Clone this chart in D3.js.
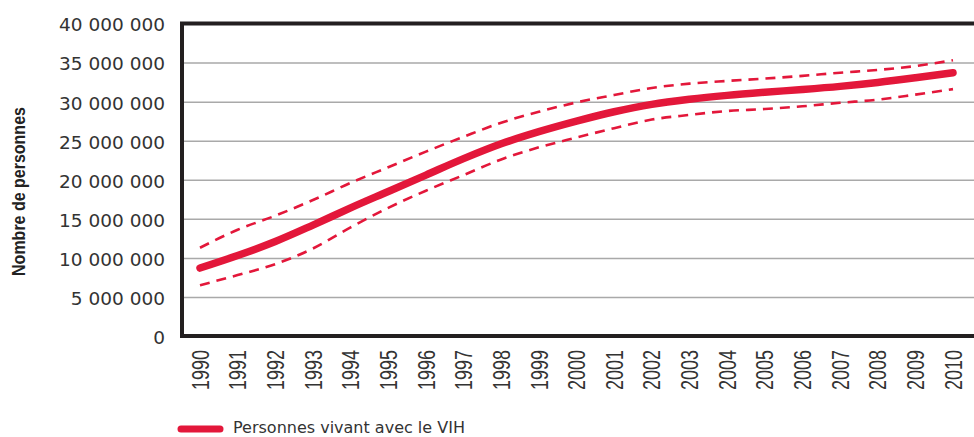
<!DOCTYPE html>
<html>
<head>
<meta charset="utf-8">
<script src="https://cdn.jsdelivr.net/npm/d3@7"></script>
<style>
  body { margin: 0; background: #fff; }
  svg { display: block; }
</style>
</head>
<body>
<svg id="chart" width="974" height="437"></svg>
<script>
// people living with HIV, with low / high estimates
const years = [1990, 1991, 1992, 1993, 1994, 1995, 1996, 1997, 1998, 1999, 2000,
               2001, 2002, 2003, 2004, 2005, 2006, 2007, 2008, 2009, 2010];
const estimate = [8700000, 10300000, 12100000, 14200000, 16400000, 18500000, 20600000,
                  22700000, 24600000, 26150000, 27500000, 28700000, 29650000, 30300000,
                  30800000, 31200000, 31550000, 31950000, 32450000, 33050000, 33700000];
const upperBound = [11300000, 13600000, 15400000, 17400000, 19600000, 21600000, 23600000,
                    25500000, 27300000, 28700000, 29900000, 30850000, 31750000, 32300000,
                    32650000, 32950000, 33300000, 33700000, 34050000, 34550000, 35300000];
const lowerBound = [6500000, 7800000, 9200000, 11200000, 13900000, 16400000, 18600000,
                    20600000, 22600000, 24150000, 25400000, 26600000, 27700000, 28300000,
                    28800000, 29050000, 29400000, 29850000, 30250000, 30900000, 31600000];
const yTicks = [0, 5000000, 10000000, 15000000, 20000000, 25000000, 30000000, 35000000, 40000000];
const yTitle = "Nombre de personnes";
const legendLabel = "Personnes vivant avec le VIH";

let width = 974;
let height = 437;
let red = "#e3173a";

let svg = d3.select("#chart");

let frame = { left: 182, top: 23.5, bottom: 336 };

let x = d3.scaleLinear()
    .domain([1990, 2010])
    .range([200, 953]);

let y = d3.scaleLinear()
    .domain([0, 40000000])
    .range([frame.bottom, frame.top]);

// y axis with gridlines across the plot
let fmt = d => d3.format(",")(d).replace(/,/g, " ");

let yAxis = svg.append("g")
    .attr("transform", `translate(${frame.left},0)`)
    .call(d3.axisLeft(y)
        .tickValues(yTicks)
        .tickSize(-(width - frame.left))
        .tickPadding(17)
        .tickFormat(fmt));

yAxis.select(".domain").remove();
yAxis.selectAll(".tick line")
    .style("stroke", "#a9a9a9")
    .style("stroke-width", 1.5);
yAxis.selectAll(".tick text")
    .attr("dy", "0.4em")
    .style("fill", "#333")
    .style("font-family", "'DejaVu Sans', sans-serif")
    .style("font-size", "18.5px");

// x axis: rotated year labels
let xAxis = svg.append("g")
    .attr("transform", `translate(0,${frame.bottom})`)
    .call(d3.axisBottom(x)
        .tickValues(years)
        .tickSize(0)
        .tickFormat(d3.format("d")));

xAxis.select(".domain").remove();
xAxis.selectAll(".tick text")
    .attr("y", 0)
    .attr("text-anchor", "end")
    .attr("transform", "translate(0,14) rotate(-90) scale(1,1.3)")
    .attr("dy", "0.35em")
    .style("fill", "#333")
    .style("font-family", "'Liberation Sans', Arial, sans-serif")
    .style("font-size", "18px");

// frame: top, left and bottom
svg.append("path")
    .attr("d", `M${width},${frame.top}H${frame.left}V${frame.bottom}H${width}`)
    .style("fill", "none")
    .style("stroke", "#231f20")
    .style("stroke-width", 4);

let line = d3.line()
    .x((d, i) => x(years[i]))
    .y(d => y(d))
    .curve(d3.curveMonotoneX);

[upperBound, lowerBound].forEach(series => {
    svg.append("path")
        .attr("d", line(series))
        .style("fill", "none")
        .style("stroke", red)
        .style("stroke-width", 2.6)
        .style("stroke-dasharray", "10,7");
});

svg.append("path")
    .attr("d", line(estimate))
    .style("fill", "none")
    .style("stroke", red)
    .style("stroke-width", 7.5)
    .style("stroke-linecap", "round")
    .style("stroke-linejoin", "round");

// y axis title
svg.append("text")
    .attr("transform", "translate(25,191.5) rotate(-90) scale(1,1.15)")
    .attr("text-anchor", "middle")
    .text(yTitle)
    .style("fill", "#222")
    .style("font-family", "'Liberation Sans', Arial, sans-serif")
    .style("font-weight", "bold")
    .style("font-size", "16px");

// legend
svg.append("line")
    .attr("x1", 181)
    .attr("x2", 220)
    .attr("y1", 429)
    .attr("y2", 429)
    .style("stroke", red)
    .style("stroke-width", 7)
    .style("stroke-linecap", "round");

svg.append("text")
    .attr("x", 233)
    .attr("y", 433)
    .text(legendLabel)
    .style("fill", "#333")
    .style("font-family", "'DejaVu Sans', sans-serif")
    .style("font-size", "16px");
</script>
</body>
</html>
